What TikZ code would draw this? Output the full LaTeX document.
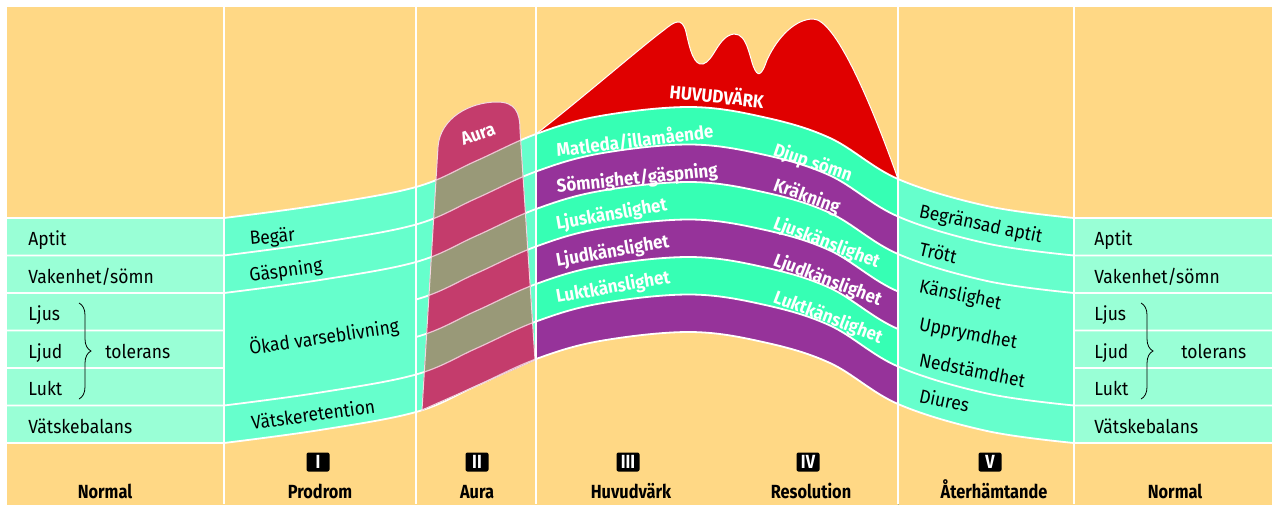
\documentclass[tikz,border=0pt]{standalone}
\usepackage{fontspec}
\setmainfont[FakeStretch=0.92]{Fira Sans}
\newfontfamily\condfont[FakeStretch=0.86]{Fira Sans}
\usepackage{tikz}
\usetikzlibrary{decorations.pathreplacing}
\definecolor{bgorange}{HTML}{FFD885}
\definecolor{normmint}{HTML}{99FFD6}
\definecolor{bandgreen}{HTML}{66FFCC}
\definecolor{brightgreen}{HTML}{36FFB4}
\definecolor{bandpurple}{HTML}{96339A}
\definecolor{headred}{HTML}{E00000}
\definecolor{aurapink}{HTML}{C43C6C}
\definecolor{auraolive}{HTML}{999978}
\tikzset{font=\fontsize{9.5}{11}\selectfont}
\tikzset{rowtext/.style={anchor=base west, inner sep=0pt}}
\tikzset{whitetext/.style={rowtext, text=white, font=\fontsize{9.2}{11}\selectfont\bfseries}}
\tikzset{phase/.style={fill=black, text=white, rounded corners=1pt, minimum width=11.5pt,
  minimum height=9.5pt, inner sep=0pt, font=\condfont\fontsize{9.5}{11}\selectfont\bfseries}}
\tikzset{phasename/.style={anchor=base, inner sep=0pt, font=\condfont\fontsize{9.5}{11}\selectfont\bfseries}}
\tikzset{bandline/.style={draw=white, line width=0.9pt}}
\tikzset{auraline/.style={draw=white!70!aurapink, line width=0.6pt}}
\tikzset{colline/.style={draw=white, line width=0.8pt}}
\tikzset{tolbrace/.style={decorate, decoration={brace, amplitude=6pt}, thin}}
% top edge of the band, one row is 37.5 high
\newcommand\bandcurve{(7,218) -- plot[smooth, tension=0.6] coordinates {(224,218) (320,205)
  (416,187) (476,161) (536,134) (600,116) (690,107) (763,117) (830,138) (898,179)
  (987,206) (1074,218)} -- (1272,218)}
\newcommand\bandfill[2]{\fill[#1, shift={(0,#2*37.5)}] \bandcurve -- (1272,700) -- (7,700) -- cycle;}
\newcommand\aurapath{(422,410) -- (438,147) .. controls (440,118) and (470,102) .. (497,102)
  .. controls (515,102) and (520,112) .. (520,130) -- (535,360) -- cycle}
\newcommand\headpath{(536,134) .. controls (580,100) and (640,48) .. (664,30)
  .. controls (674,22) and (682,16) .. (686,32) .. controls (690,50) and (694,66) .. (703,64)
  .. controls (714,61) and (718,36) .. (734,34) .. controls (748,33) and (750,62) .. (755,70)
  .. controls (759,78) and (763,72) .. (767,60) .. controls (778,36) and (796,19) .. (813,19)
  .. controls (835,19) and (870,100) .. (898,179)}

\begin{document}
\begin{tikzpicture}[x=0.5pt, y=-0.5pt]
  \useasboundingbox (0,0) rectangle (1272,504);
  \fill[white] (0,0) rectangle (1272,504);
  \fill[bgorange] (7,7) rectangle (1272,504);
  % headache
  \fill[headred] \headpath -- (898,300) -- (536,300) -- cycle;
  \draw[white, line width=0.5pt] \headpath;
  % bands
  \foreach \xa/\xb/\col in {7/224/normmint, 224/416/bandgreen, 416/536/bandgreen,
      898/1074/bandgreen, 1074/1272/normmint} {
    \begin{scope}
      \clip (\xa,0) rectangle (\xb,504);
      \bandfill{fill=\col}{0}
      \bandfill{fill=bgorange}{6}
    \end{scope}
  }
  \begin{scope}
    \clip (536,0) rectangle (898,504);
    \foreach \k/\col in {0/brightgreen, 1/bandpurple, 2/brightgreen, 3/bandpurple,
        4/brightgreen, 5/bandpurple} {
      \bandfill{fill=\col}{\k}
    }
    \bandfill{fill=bgorange}{6}
  \end{scope}
  \foreach \k in {0,1,2,5,6} {
    \draw[bandline, shift={(0,\k*37.5)}] \bandcurve;
  }
  \begin{scope}
    \clip (7,0) rectangle (224,504) (416,0) rectangle (898,504) (1074,0) rectangle (1272,504);
    \foreach \k in {3,4} {
      \draw[bandline, shift={(0,\k*37.5)}] \bandcurve;
    }
  \end{scope}
  % aura
  \fill[aurapink] \aurapath;
  \begin{scope}
    \clip \aurapath;
    \foreach \k/\col in {0/auraolive, 1/aurapink, 2/auraolive, 3/aurapink,
        4/auraolive, 5/aurapink} {
      \bandfill{fill=\col}{\k}
    }
    \foreach \k in {0,...,6} {
      \draw[auraline, shift={(0,\k*37.5)}] \bandcurve;
    }
  \end{scope}
  \draw[white!80!aurapink, line width=0.5pt] \aurapath;
  \foreach \x in {224,416,536,898,1074} {
    \draw[colline] (\x,7) -- (\x,504);
  }

  %Nodes
  \node[rowtext] (aptL) at (28,245.5) {Aptit};
  \node[rowtext] (vakL) at (28,283) {Vakenhet/sömn};
  \node[rowtext] (ljusL) at (28,320.5) {Ljus};
  \node[rowtext] (ljudL) at (28,358) {Ljud};
  \node[rowtext] (luktL) at (28,395.5) {Lukt};
  \node[rowtext] (vatL) at (28,433) {Vätskebalans};
  \draw[tolbrace] (79,303) -- (79,399);
  \node[rowtext] (tolL) at (105,358.5) {tolerans};

  \node[rowtext, rotate=5] (begar) at (250,245) {Begär};
  \node[rowtext, rotate=8] (gasp) at (250,282) {Gäspning};
  \node[rowtext, rotate=8.5] (okad) at (250,355) {Ökad varseblivning};
  \node[rowtext, rotate=8] (vatret) at (252,430) {Vätskeretention};

  \node[whitetext, anchor=center, rotate=20] (auralbl) at (478,134) {Aura};
  \node[whitetext, anchor=center, rotate=-6] (huvud) at (717,95) {HUVUDVÄRK};

  \node[whitetext, rotate=7] (matleda) at (557,157) {Matleda/illamående};
  \node[whitetext, rotate=6] (somnig) at (557,193) {Sömnighet/gäspning};
  \node[whitetext, rotate=10] (ljusA) at (557,230) {Ljuskänslighet};
  \node[whitetext, rotate=10] (ljudA) at (557,267) {Ljudkänslighet};
  \node[whitetext, rotate=10] (luktA) at (557,303) {Luktkänslighet};
  \node[whitetext, rotate=-19] (djup) at (772,155) {Djup sömn};
  \node[whitetext, rotate=-20] (krak) at (772,190) {Kräkning};
  \node[whitetext, rotate=-21] (ljusB) at (772,228) {Ljuskänslighet};
  \node[whitetext, rotate=-21] (ljudB) at (772,265) {Ljudkänslighet};
  \node[whitetext, rotate=-21] (luktB) at (772,302) {Luktkänslighet};

  \node[rowtext, rotate=-12] (begr) at (918,217) {Begränsad aptit};
  \node[rowtext, rotate=-13] (trott) at (918,255) {Trött};
  \node[rowtext, rotate=-12] (kansl) at (918,292) {Känslighet};
  \node[rowtext, rotate=-11] (uppr) at (918,330) {Upprymdhet};
  \node[rowtext, rotate=-11.5] (nedst) at (918,366) {Nedstämdhet};
  \node[rowtext, rotate=-12] (diur) at (918,402) {Diures};

  \node[rowtext] (aptR) at (1094,245.5) {Aptit};
  \node[rowtext] (vakR) at (1094,283) {Vakenhet/sömn};
  \node[rowtext] (ljusR) at (1094,320.5) {Ljus};
  \node[rowtext] (ljudR) at (1094,358) {Ljud};
  \node[rowtext] (luktR) at (1094,395.5) {Lukt};
  \node[rowtext] (vatR) at (1094,433) {Vätskebalans};
  \draw[tolbrace] (1141,303) -- (1141,399);
  \node[rowtext] (tolR) at (1181,358.5) {tolerans};

  % phases
  \node[phase] (ph1) at (318,462) {I};
  \node[phase] (ph2) at (477,462) {II};
  \node[phase] (ph3) at (628,462) {III};
  \node[phase] (ph4) at (808,462) {IV};
  \node[phase] (ph5) at (990,462) {V};
  \node[phasename] (nmL) at (105,498) {Normal};
  \node[phasename] (prod) at (320,498) {Prodrom};
  \node[phasename] (aura) at (477,498) {Aura};
  \node[phasename] (huvn) at (631,498) {Huvudvärk};
  \node[phasename] (reso) at (811,498) {Resolution};
  \node[phasename] (ater) at (994,498) {Återhämtande};
  \node[phasename] (nmR) at (1175,498) {Normal};
\end{tikzpicture}
\end{document}
